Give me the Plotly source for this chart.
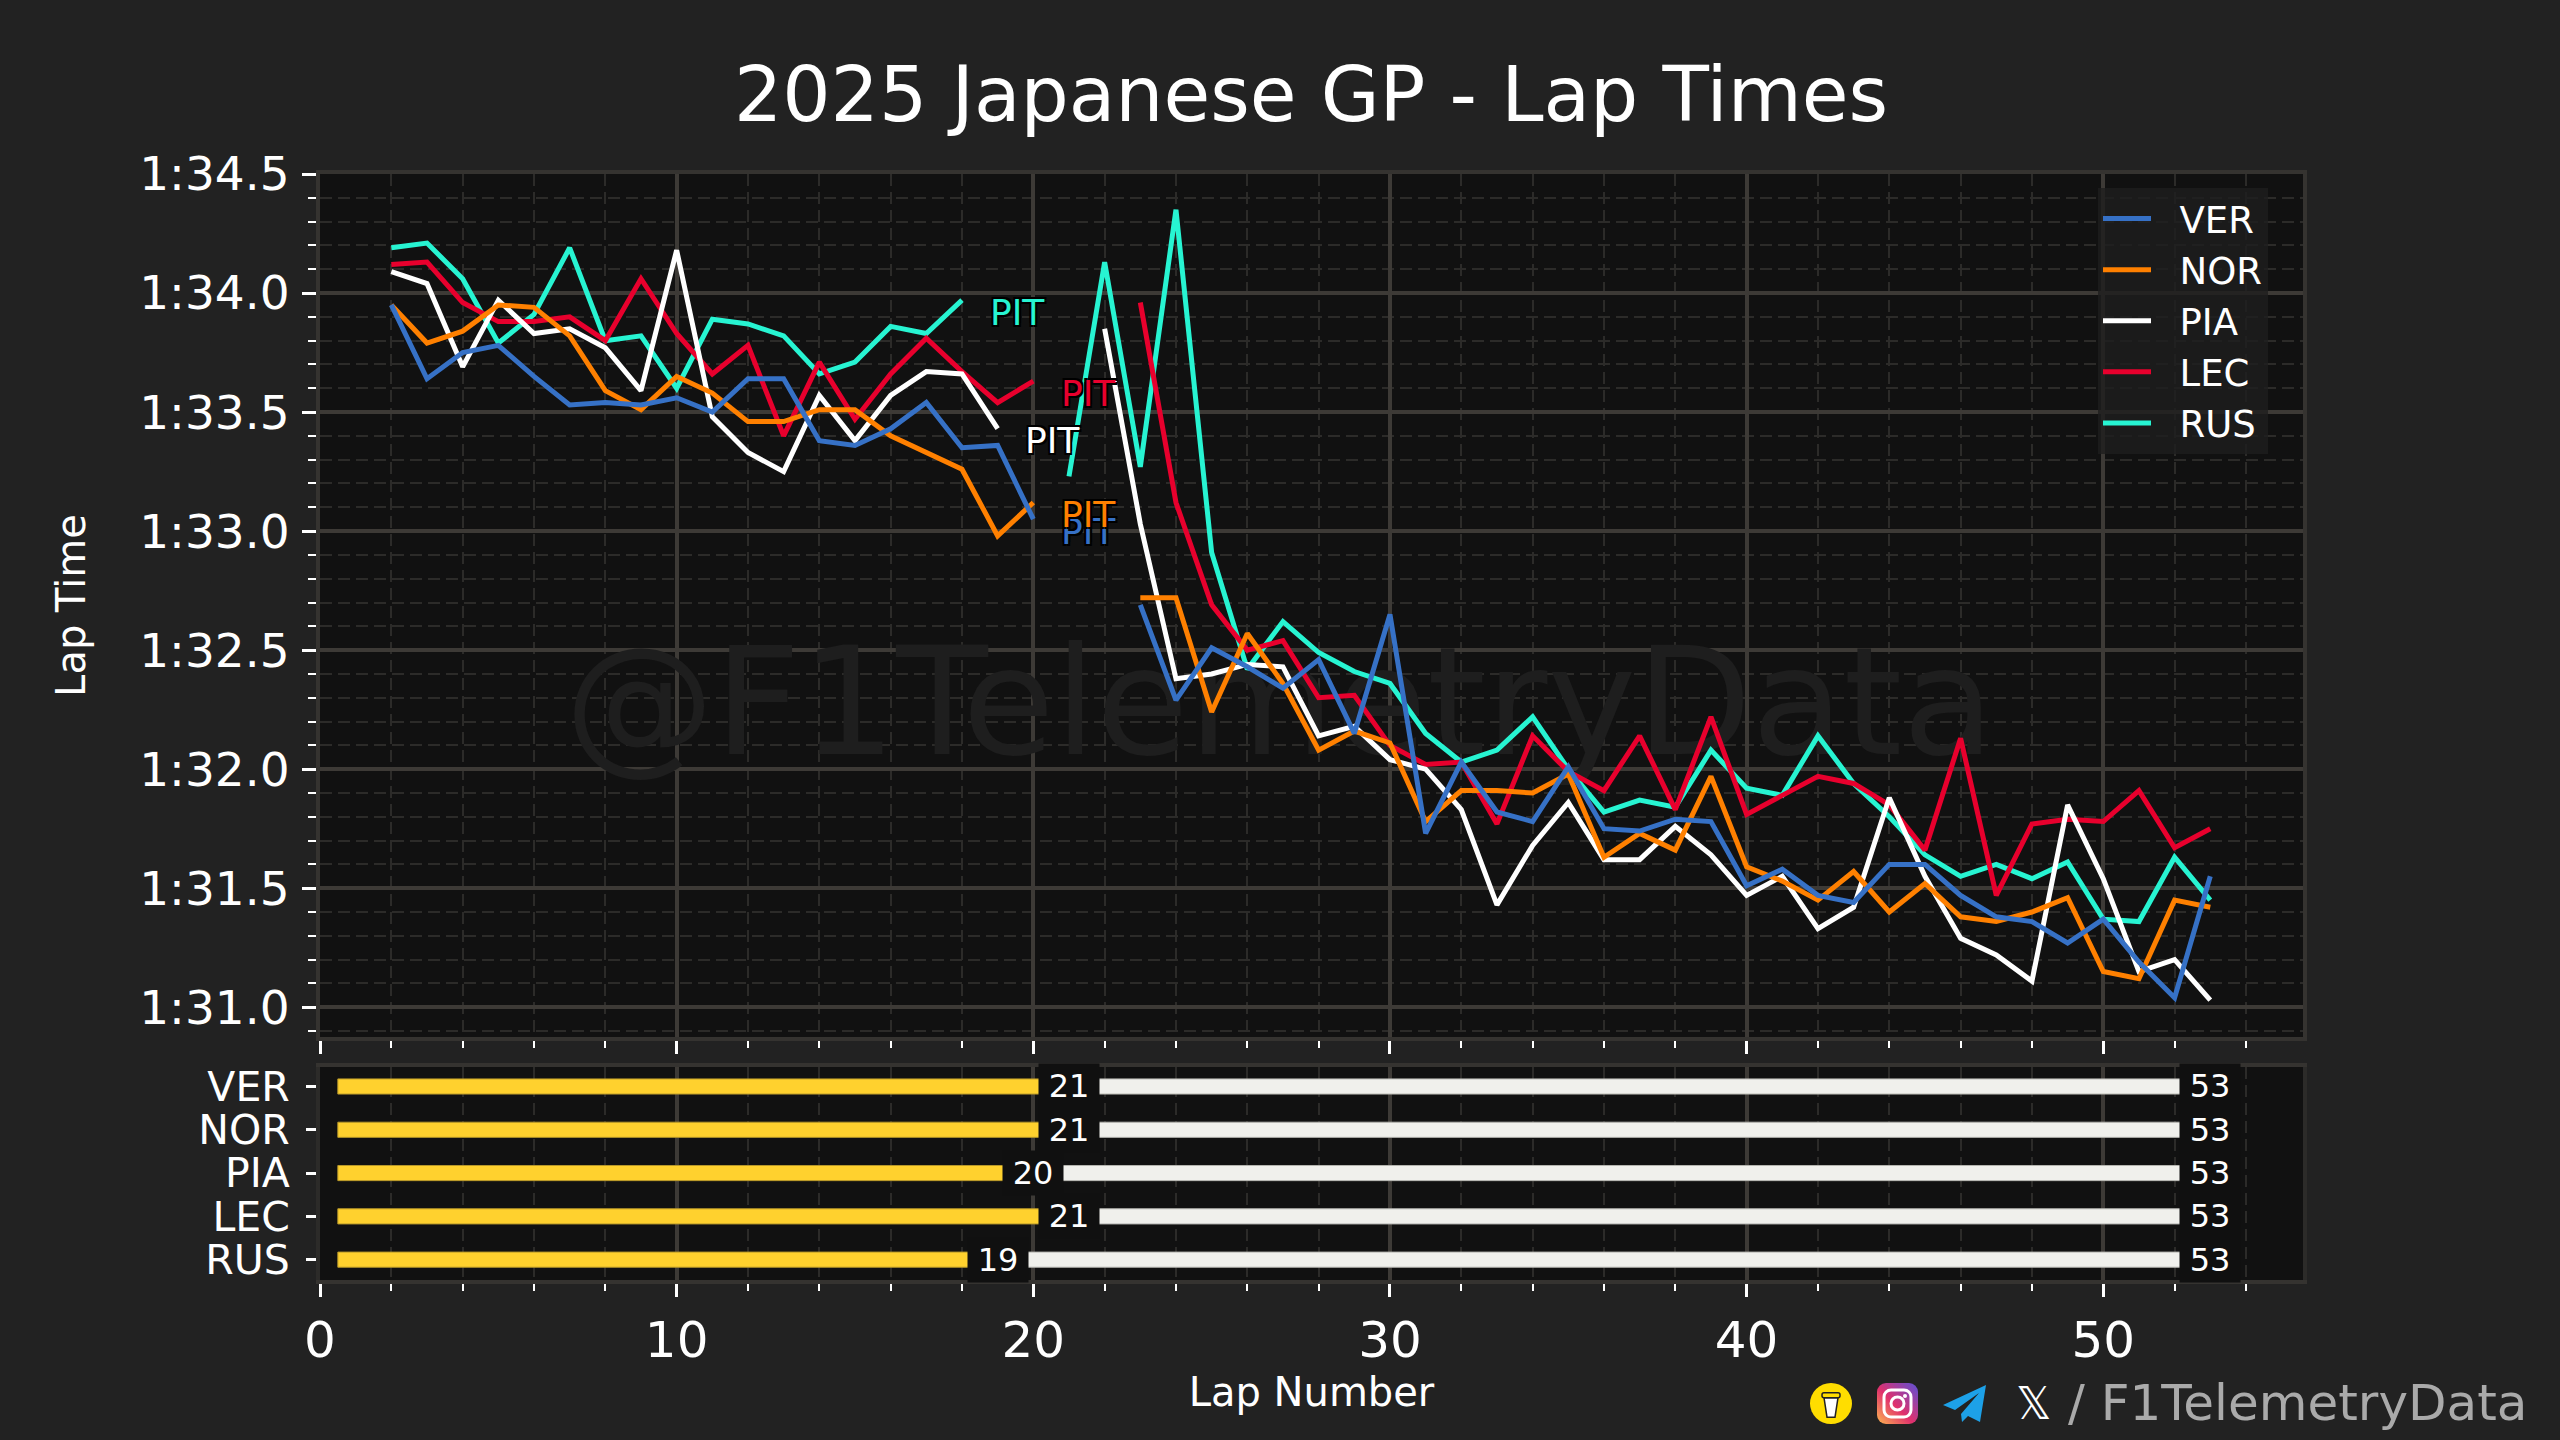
import base64
import plotly.graph_objects as go

# lap times in seconds, first value is lap 2, None = pit window gap
LAP_START = 2
VER = [93.95, 93.64, 93.75, 93.78, 93.65, 93.53, 93.54, 93.53, 93.56, 93.50, 93.64, 93.64, 93.38, 93.36, 93.43, 93.54, 93.35, 93.36, 93.05,
       None, None,
       92.69, 92.29, 92.51, 92.43, 92.34, 92.46, 92.15, 92.65, 91.73, 92.03, 91.82, 91.78, 92.01, 91.75, 91.74, 91.79,
       91.78, 91.51, 91.58, 91.47, 91.44, 91.60, 91.60, 91.47, 91.38, 91.36, 91.27, 91.37, 91.19, 91.04, 91.55]
NOR = [93.95, 93.79, 93.84, 93.95, 93.94, 93.82, 93.59, 93.51, 93.65, 93.58, 93.46, 93.46, 93.51, 93.51, 93.40, 93.33, 93.26, 92.98, 93.12,
       None, None,
       92.72, 92.72, 92.24, 92.57, 92.36, 92.08, 92.16, 92.11, 91.78, 91.91, 91.91, 91.90, 91.98, 91.63, 91.73, 91.66,
       91.97, 91.59, 91.53, 91.45, 91.57, 91.40, 91.52, 91.38, 91.36, 91.40, 91.46, 91.15, 91.12, 91.45, 91.42]
PIA = [94.09, 94.04, 93.69, 93.97, 93.83, 93.85, 93.77, 93.59, 94.18, 93.48, 93.33, 93.25, 93.57, 93.38, 93.57, 93.67, 93.66, 93.43,
       None, None,
       93.85, 93.03, 92.38, 92.40, 92.44, 92.43, 92.14, 92.18, 92.04, 92.00, 91.83, 91.43, 91.68, 91.86, 91.62, 91.62, 91.76,
       91.64, 91.47, 91.55, 91.33, 91.42, 91.88, 91.55, 91.29, 91.22, 91.11, 91.85, 91.54, 91.15, 91.20, 91.03]
LEC = [94.12, 94.13, 93.96, 93.88, 93.88, 93.90, 93.80, 94.06, 93.83, 93.66, 93.78, 93.40, 93.71, 93.47, 93.66, 93.81, 93.67, 93.54, 93.63,
       None, None,
       93.96, 93.12, 92.69, 92.50, 92.54, 92.30, 92.31, 92.10, 92.02, 92.03, 91.77, 92.14, 91.99, 91.91, 92.14, 91.83,
       92.22, 91.81, 91.89, 91.97, 91.94, 91.85, 91.66, 92.13, 91.47, 91.77, 91.79, 91.78, 91.91, 91.67, 91.75]
RUS = [94.19, 94.21, 94.06, 93.79, 93.91, 94.19, 93.80, 93.82, 93.60, 93.89, 93.87, 93.82, 93.66, 93.71, 93.86, 93.83, 93.97,
       None, None,
       93.23, 94.13, 93.27, 94.35, 92.91, 92.42, 92.62, 92.49, 92.41, 92.36, 92.15, 92.03, 92.08, 92.22, 92.00, 91.82, 91.87, 91.84,
       92.08, 91.92, 91.89, 92.14, 91.94, 91.80, 91.64, 91.55, 91.60, 91.54, 91.61, 91.37, 91.36, 91.63, 91.45]

drivers = ["VER", "NOR", "PIA", "LEC", "RUS"]
series = [VER, NOR, PIA, LEC, RUS]
colors = ["#3671C6", "#FF8000", "#FFFFFF", "#E8002D", "#27F4D2"]
stint_ends = [21, 21, 20, 21, 19]
TOTAL_LAPS = 53

y_tickvals = [91.0, 91.5, 92.0, 92.5, 93.0, 93.5, 94.0, 94.5]
y_ticktext = ["1:31.0", "1:31.5", "1:32.0", "1:32.5", "1:33.0", "1:33.5", "1:34.0", "1:34.5"]

FONT = "DejaVu Sans"
BG = "#222222"
PLOT_BG = "#111111"
GRID = "#3d3a36"
GRID_MINOR = "#2c2b29"
FRAME = "#353330"
WIDTH, HEIGHT = 2560, 1440

fig = go.Figure()

fig.add_trace(go.Scatter(x=[26.9], y=[92.22], mode="text", text=["@F1TelemetryData"],
                         textfont=dict(family=FONT, size=150, color="#1e1e1e"),
                         showlegend=False, hoverinfo="skip"))

# last driver first so VER ends up on top, legend order is flipped back below
for name, vals, col in reversed(list(zip(drivers, series, colors))):
    laps = list(range(LAP_START, LAP_START + len(vals)))
    fig.add_trace(go.Scatter(x=laps, y=vals, mode="lines", name="\u00a0\u00a0" + name, line=dict(color=col, width=5)))

for i, name in enumerate(drivers):
    end = stint_ends[i]
    fig.add_trace(go.Bar(y=[i], x=[end - 0.5], base=[0.5], orientation="h", width=0.35, xaxis="x2", yaxis="y2",
                         marker=dict(color="#FFD12E", line=dict(color="#b8982a", width=1)), showlegend=False))
    fig.add_trace(go.Bar(y=[i], x=[TOTAL_LAPS - end], base=[end], orientation="h", width=0.35, xaxis="x2", yaxis="y2",
                         marker=dict(color="#F0F0EC", line=dict(color="#b5b5b0", width=1)), showlegend=False))

# PIT labels sit just right of the last lap before the stop
outline = "-2px -2px 0 #000, 2px -2px 0 #000, -2px 2px 0 #000, 2px 2px 0 #000"
for vals, col in zip(series, colors):
    gap = vals.index(None)
    fig.add_annotation(x=LAP_START + gap - 1 + 1.55, y=vals[gap - 1] - 0.05, text="PIT", showarrow=False,
                       font=dict(family=FONT, size=36, color=col, shadow=outline))

# stint end labels on their dark boxes
for i, end in enumerate(stint_ends):
    for lap in (end, TOTAL_LAPS):
        fig.add_annotation(x=lap, y=i, xref="x2", yref="y2", text=str(lap), showarrow=False,
                           font=dict(family=FONT, size=32, color="#FFFFFF"),
                           bgcolor="#101010", width=60, height=44, borderpad=0)

fig.add_annotation(x=2014 / WIDTH, y=1 - 1403 / HEIGHT, xref="paper", yref="paper", xanchor="left", yanchor="middle",
                   text="𝕏", showarrow=False, font=dict(family=FONT, size=44, color="#FFFFFF"))
fig.add_annotation(x=2066 / WIDTH, y=1 - 1403 / HEIGHT, xref="paper", yref="paper", xanchor="left", yanchor="middle",
                   text="/ F1TelemetryData", showarrow=False, font=dict(family=FONT, size=50, color="#AAAAAA"))


def svg_src(body, w, h):
    svg = f'<svg xmlns="http://www.w3.org/2000/svg" viewBox="0 0 {w} {h}" width="{w}" height="{h}">{body}</svg>'
    return "data:image/svg+xml;base64," + base64.b64encode(svg.encode()).decode()


cup = ('<ellipse cx="21" cy="21" rx="21" ry="21" fill="#FFDD00"/>'
       '<path d="M14 15 L28 15 L25 35 L17 35 Z" fill="#fff" stroke="#222" stroke-width="1.5"/>'
       '<rect x="12" y="10" width="18" height="5" rx="2" fill="#FFDD00" stroke="#222" stroke-width="1.5"/>')
insta = ('<defs><linearGradient id="g" x1="0" y1="1" x2="1" y2="0"><stop offset="0" stop-color="#FDB750"/>'
         '<stop offset="0.45" stop-color="#E1306C"/><stop offset="1" stop-color="#5B51D8"/></linearGradient></defs>'
         '<rect width="41" height="41" rx="9" fill="url(#g)"/>'
         '<rect x="7" y="7" width="27" height="27" rx="7" fill="none" stroke="#fff" stroke-width="3"/>'
         '<circle cx="20.5" cy="20.5" r="6.5" fill="none" stroke="#fff" stroke-width="3"/>'
         '<circle cx="28" cy="13" r="2" fill="#fff"/>')
plane = '<path d="M43 0 L0 20 L12 25 L36 8 L18 29 L19 37 L25 31 L37 37 Z" fill="#1DA1E8"/>'

fig.update_layout(images=[
    dict(source=svg_src(cup, 42, 42), xref="paper", yref="paper", x=1810 / WIDTH, y=1 - 1383 / HEIGHT,
         sizex=42 / WIDTH, sizey=41 / HEIGHT, xanchor="left", yanchor="top", sizing="stretch"),
    dict(source=svg_src(insta, 41, 41), xref="paper", yref="paper", x=1877 / WIDTH, y=1 - 1383 / HEIGHT,
         sizex=41 / WIDTH, sizey=41 / HEIGHT, xanchor="left", yanchor="top", sizing="stretch"),
    dict(source=svg_src(plane, 43, 37), xref="paper", yref="paper", x=1943 / WIDTH, y=1 - 1385 / HEIGHT,
         sizex=43 / WIDTH, sizey=37 / HEIGHT, xanchor="left", yanchor="top", sizing="stretch"),
])

x_common = dict(range=[0, 55.6], domain=[320 / WIDTH, 2303 / WIDTH], dtick=10, tick0=0,
                ticks="outside", ticklen=13, tickwidth=3, tickcolor="#FFFFFF",
                showline=True, mirror=True, linecolor=FRAME, linewidth=4, zeroline=False,
                gridcolor=GRID, gridwidth=4,
                minor=dict(dtick=2, tick0=0, ticks="outside", ticklen=7, tickwidth=2, tickcolor="#FFFFFF",
                           showgrid=True, gridcolor=GRID_MINOR, gridwidth=2, griddash="12px,6px"))

fig.update_layout(
    width=WIDTH, height=HEIGHT, margin=dict(l=0, r=0, t=0, b=0, autoexpand=False),
    paper_bgcolor=BG, plot_bgcolor=PLOT_BG, barmode="overlay",
    title=dict(text="2025 Japanese GP - Lap Times", x=1311 / WIDTH, xanchor="center", y=1 - 94 / HEIGHT, yanchor="middle",
               font=dict(family=FONT, size=76, color="#FFFFFF")),
    font=dict(family=FONT, color="#FFFFFF"),
    xaxis=dict(anchor="y", showticklabels=False, **x_common),
    xaxis2=dict(anchor="y2", showticklabels=True, tickfont=dict(family=FONT, size=50, color="#FFFFFF"),
                title=dict(text="Lap Number", font=dict(family=FONT, size=40, color="#FFFFFF"), standoff=1), **x_common),
    yaxis=dict(domain=[1 - 1037 / HEIGHT, 1 - 174 / HEIGHT], range=[90.875, 94.5], anchor="x",
               tickmode="array", tickvals=y_tickvals, ticktext=y_ticktext,
               tickfont=dict(family=FONT, size=47, color="#FFFFFF"), ticklabelstandoff=3,
               ticks="outside", ticklen=14, tickwidth=3, tickcolor="#FFFFFF",
               showline=True, mirror=True, linecolor=FRAME, linewidth=4, zeroline=False,
               gridcolor=GRID, gridwidth=4,
               minor=dict(dtick=0.1, tick0=91, ticks="outside", ticklen=8, tickwidth=2, tickcolor="#FFFFFF",
                          showgrid=True, gridcolor=GRID_MINOR, gridwidth=2, griddash="12px,6px"),
               title=dict(text="Lap Time", font=dict(family=FONT, size=40, color="#FFFFFF"), standoff=42)),
    yaxis2=dict(domain=[1 - 1280 / HEIGHT, 1 - 1067 / HEIGHT], range=[4.47, -0.45], anchor="x2",
                tickmode="array", tickvals=list(range(len(drivers))), ticktext=drivers,
                tickfont=dict(family=FONT, size=41, color="#FFFFFF"), ticklabelstandoff=8,
                ticks="outside", ticklen=10, tickwidth=3, tickcolor="#FFFFFF",
                showline=True, mirror=True, linecolor="#2c2b29", linewidth=4, zeroline=False, showgrid=False),
    legend=dict(x=2098 / WIDTH, y=1 - 188 / HEIGHT, xanchor="left", yanchor="top", traceorder="reversed",
                bgcolor="rgba(30,30,30,0.8)", borderwidth=0, itemwidth=48,
                font=dict(family=FONT, size=37, color="#FFFFFF")),
    showlegend=True,
)

fig.write_html("out.html", config=dict(displayModeBar=False), post_script="document.body.style.margin='0';")
